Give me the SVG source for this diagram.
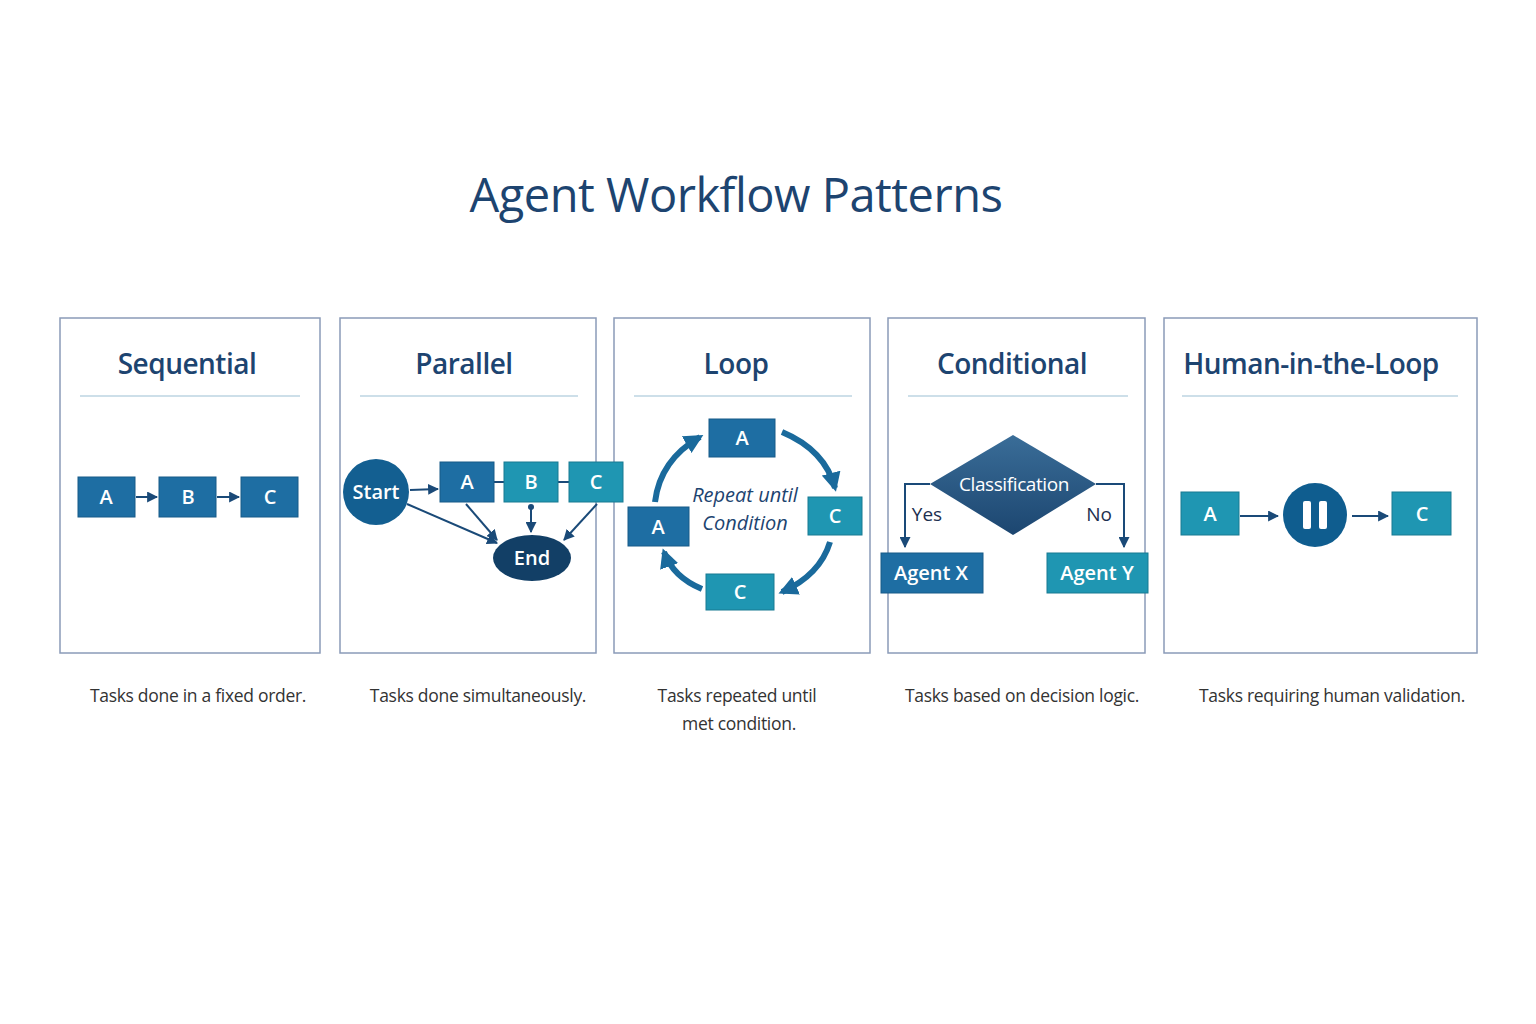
<svg xmlns="http://www.w3.org/2000/svg" width="1536" height="1024" viewBox="0 0 1536 1024">
<defs>
<marker id="ar" viewBox="0 0 10 10" refX="9" refY="5" markerWidth="5.5" markerHeight="5.5" orient="auto"><path d="M0,0L10,5L0,10z" fill="#1a4a78"/></marker>
<marker id="arb" viewBox="0 0 10 10" refX="8" refY="5" markerWidth="3.2" markerHeight="3.2" orient="auto"><path d="M0,0L10,5L0,10z" fill="#1a6a9c"/></marker>
<linearGradient id="dg" x1="0" y1="0" x2="0" y2="1"><stop offset="0" stop-color="#3a6d98"/><stop offset="1" stop-color="#1c4670"/></linearGradient>
</defs>
<style>
text{font-family:"Open Sans","Noto Sans",sans-serif}
.panel{fill:#fff;stroke:#8a9bb8;stroke-width:1.5}
.hl{stroke:#9cc0d4;stroke-width:1.2}
.h{font-size:28px;fill:#1d4470;text-anchor:middle;font-weight:600;letter-spacing:-0.5px}
.cap{font-size:17.5px;fill:#333;text-anchor:middle;letter-spacing:-0.3px}
.b1{fill:#1e6ea3;stroke:#175a88}
.b2{fill:#1f96b2;stroke:#187a92}
.bt{font-size:20px;fill:#fff;text-anchor:middle;font-weight:600}
.ln{stroke:#1a4a78;stroke-width:2;fill:none}
.la{stroke:#1a6a9c;stroke-width:6;fill:none}
</style>
<rect width="1536" height="1024" fill="#fff"/>
<text x="736" y="212" font-size="47" fill="#1d4470" text-anchor="middle" font-weight="500" letter-spacing="-0.5">Agent Workflow Patterns</text>

<g id="panels">
<rect class="panel" x="60" y="318" width="260" height="335"/>
<rect class="panel" x="340" y="318" width="256" height="335"/>
<rect class="panel" x="614" y="318" width="256" height="335"/>
<rect class="panel" x="888" y="318" width="257" height="335"/>
<rect class="panel" x="1164" y="318" width="313" height="335"/>
<line class="hl" x1="80" y1="396" x2="300" y2="396"/>
<line class="hl" x1="360" y1="396" x2="578" y2="396"/>
<line class="hl" x1="634" y1="396" x2="852" y2="396"/>
<line class="hl" x1="908" y1="396" x2="1128" y2="396"/>
<line class="hl" x1="1182" y1="396" x2="1458" y2="396"/>
<text class="h" x="187" y="374">Sequential</text>
<text class="h" x="464" y="374">Parallel</text>
<text class="h" x="736" y="374">Loop</text>
<text class="h" x="1012" y="374">Conditional</text>
<text class="h" x="1311" y="374">Human-in-the-Loop</text>
<text class="cap" x="198" y="702">Tasks done in a fixed order.</text>
<text class="cap" x="478" y="702">Tasks done simultaneously.</text>
<text class="cap" x="737" y="702">Tasks repeated until</text>
<text class="cap" x="739" y="730">met condition.</text>
<text class="cap" x="1022" y="702">Tasks based on decision logic.</text>
<text class="cap" x="1332" y="702">Tasks requiring human validation.</text>
</g>

<g id="connectors">
<line class="ln" x1="136" y1="497" x2="157" y2="497" marker-end="url(#ar)"/>
<line class="ln" x1="217" y1="497" x2="239" y2="497" marker-end="url(#ar)"/>
<line class="ln" x1="410" y1="490" x2="438" y2="489" marker-end="url(#ar)"/>
<line class="ln" x1="494" y1="482" x2="504" y2="482"/>
<line class="ln" x1="558" y1="482" x2="569" y2="482"/>
<line class="ln" x1="407" y1="504" x2="497" y2="543" marker-end="url(#ar)"/>
<line class="ln" x1="466" y1="504" x2="497" y2="540" marker-end="url(#ar)"/>
<line class="ln" x1="531" y1="507" x2="531" y2="532" marker-end="url(#ar)"/>
<circle cx="531" cy="507" r="3" fill="#1a4a78"/>
<line class="ln" x1="597" y1="504" x2="564" y2="540" marker-end="url(#ar)"/>
<path class="la" d="M655,502 Q660,460 700,437" marker-end="url(#arb)"/>
<path class="la" d="M782,432 Q825,450 835,488" marker-end="url(#arb)"/>
<path class="la" d="M830,542 Q820,575 782,592" marker-end="url(#arb)"/>
<path class="la" d="M702,589 Q673,577 664,552" marker-end="url(#arb)"/>
<polyline class="ln" points="930,484 905,484 905,547" marker-end="url(#ar)"/>
<polyline class="ln" points="1096,484 1124,484 1124,547" marker-end="url(#ar)"/>
<line class="ln" x1="1240" y1="516" x2="1278" y2="516" marker-end="url(#ar)"/>
<line class="ln" x1="1352" y1="516" x2="1388" y2="516" marker-end="url(#ar)"/>
</g>

<g id="seq">
<rect class="b1" x="78" y="477" width="57" height="40"/><text class="bt" x="106" y="504">A</text>
<rect class="b1" x="159" y="477" width="57" height="40"/><text class="bt" x="188" y="504">B</text>
<rect class="b1" x="241" y="477" width="57" height="40"/><text class="bt" x="270" y="504">C</text>
</g>
<g id="par">
<circle cx="376" cy="492" r="33" fill="#135f91"/><text class="bt" x="376" y="499">Start</text>
<rect class="b1" x="440" y="462" width="54" height="40"/><text class="bt" x="467" y="489">A</text>
<rect class="b2" x="504" y="462" width="54" height="40"/><text class="bt" x="531" y="489">B</text>
<rect class="b2" x="569" y="462" width="54" height="40"/><text class="bt" x="596" y="489">C</text>
<ellipse cx="532" cy="558" rx="39" ry="23" fill="#123f66"/><text class="bt" x="532" y="565">End</text>
</g>
<g id="loop">
<rect class="b1" x="709" y="419" width="66" height="38"/><text class="bt" x="742" y="445">A</text>
<rect class="b2" x="808" y="497" width="54" height="38"/><text class="bt" x="835" y="523">C</text>
<rect class="b2" x="706" y="574" width="68" height="36"/><text class="bt" x="740" y="599">C</text>
<rect class="b1" x="628" y="507" width="61" height="39"/><text class="bt" x="658" y="534">A</text>
<text x="745" y="502" font-size="20" font-style="italic" fill="#1d4470" text-anchor="middle">Repeat until</text>
<text x="745" y="530" font-size="20" font-style="italic" fill="#1d4470" text-anchor="middle">Condition</text>
</g>
<g id="cond">
<polygon points="1013,435 1096,484 1013,535 930,484" fill="url(#dg)"/>
<text x="1014" y="491" font-size="19" fill="#fff" text-anchor="middle" letter-spacing="-0.4">Classification</text>
<text x="927" y="521" font-size="19" fill="#1d3050" text-anchor="middle">Yes</text>
<text x="1099" y="521" font-size="19" fill="#1d3050" text-anchor="middle">No</text>
<rect class="b1" x="881" y="553" width="102" height="40"/><text class="bt" x="931" y="580" font-weight="500">Agent X</text>
<rect class="b2" x="1047" y="553" width="101" height="40"/><text class="bt" x="1097" y="580" font-weight="500">Agent Y</text>
</g>
<g id="hitl">
<rect class="b2" x="1181" y="492" width="58" height="43"/><text class="bt" x="1210" y="521">A</text>
<circle cx="1315" cy="515" r="32" fill="#0f5d8f"/>
<rect x="1303" y="501" width="8" height="28" rx="2" fill="#fff"/><rect x="1319" y="501" width="8" height="28" rx="2" fill="#fff"/>
<rect class="b2" x="1392" y="492" width="59" height="43"/><text class="bt" x="1422" y="521">C</text>
</g>
</svg>
